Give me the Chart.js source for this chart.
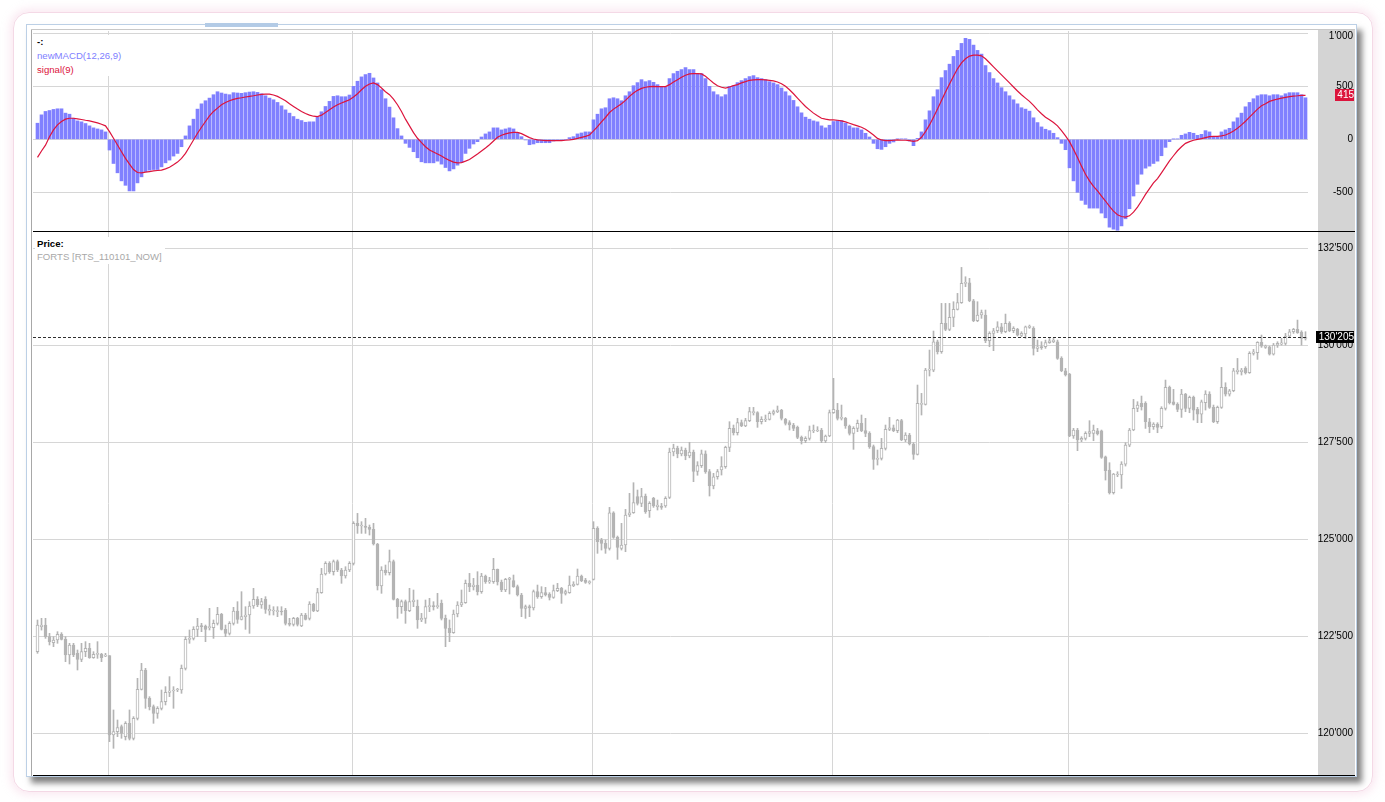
<!DOCTYPE html>
<html>
<head>
<meta charset="utf-8">
<title>newMACD / RTS</title>
<script src="https://cdn.jsdelivr.net/npm/chart.js@4.4.1/dist/chart.umd.min.js"></script>
<style>
  html, body { margin: 0; padding: 0; background: #fff; }
  body { position: relative; width: 1385px; height: 802px; overflow: hidden; font-family: "Liberation Sans", Arial, sans-serif; }
  #glow { position: absolute; left: 13px; top: 12px; width: 1358px; height: 778px; border: 1px solid #f4d9e6; border-radius: 16px; box-shadow: 0 0 8px 3px rgba(240, 190, 215, 0.35); }
  #frame { position: absolute; left: 26px; top: 24px; width: 1329px; height: 751px; background: #fff; border: 1px solid #bcd0e6; box-shadow: 5px 6px 6px rgba(0, 0, 0, 0.5); }
  #leftEdge { position: absolute; left: 31px; top: 30px; width: 1px; height: 746px; background: #a8a8a8; }
  #topEdge { position: absolute; left: 31px; top: 29px; width: 1324px; height: 1px; background: #c8c8c8; }
  #thumb { position: absolute; left: 205px; top: 23px; width: 73px; height: 4px; background: #b3cbe6; }
  #axisPanel { position: absolute; left: 1318px; top: 30px; width: 37px; height: 745px; background: #d4d4d4; }
  canvas { position: absolute; left: 33px; }
  .sep { position: absolute; left: 33px; width: 1322px; height: 1px; background: #000; }
  .legend { position: absolute; background: #fff; font-size: 9.6px; line-height: 14px; white-space: nowrap; padding: 0 3px 0 2px; }
  .legend b { color: #000; }
</style>
</head>
<body>
<div id="glow"></div>
<div id="frame"></div>
<div id="topEdge"></div>
<div id="leftEdge"></div>
<div id="thumb"></div>
<div id="axisPanel"></div>

<canvas id="macdChart" width="1322" height="200" style="top:31px"></canvas>
<div class="sep" style="top:231px"></div>
<canvas id="priceChart" width="1322" height="543" style="top:232px"></canvas>
<div class="sep" style="top:775px"></div>

<div class="legend" style="left:35px; top:35px; height:41px;">
  <b>-:</b><br>
  <span style="color:#8080ff">newMACD(12,26,9)</span><br>
  <span style="color:#dc143c">signal(9)</span>
</div>
<div class="legend" style="left:35px; top:237px; line-height:13px; height:27px;">
  <b>Price:</b><br>
  <span style="color:#a8a8a8">FORTS [RTS_110101_NOW]</span>
</div>

<script>
// Vertical grid (session breaks, in bar index units) and axis ticks
const sessionBreaks = [17.75, 78.75, 138.75, 198.75, 257.75];
const macdTicks = [-500, 0, 500, 1000];
const priceTicks = [120000, 122500, 125000, 127500, 130000, 132500];

// MACD histogram, one value per bar
const macdHist = [
  152, 231, 263, 272, 282, 288, 288, 247, 237, 199, 174, 165, 149, 127, 108, 98, 89, 70,
  -101, -228, -316, -392, -434, -487, -487, -411, -354, -304, -291, -285, -285, -260, -222, -196, -158, -133, -70,
  32, 127, 190, 285, 335, 364, 389, 421, 449, 437, 427, 421, 440, 437, 434, 440, 446, 449, 443, 430, 411, 389,
  373, 348, 316, 278, 247, 215, 190, 177, 161, 165, 165, 209, 260, 310, 358, 405, 411, 402, 402, 418, 500, 548,
  589, 611, 623, 579, 532, 468, 383, 304, 203, 101, 32,
  -38, -76, -117, -174, -212, -222, -222, -222, -206, -234, -266, -298, -279, -244, -218, -133, -85, -44, -22,
  22, 51, 70, 108, 108, 89, 98, 108, 98, 63, 25, -6,
  -51, -44, -32, -32, -32, -32, -16, -6, -6, 0, 16, 25, 51, 60, 70, 70,
  184, 237, 288, 298, 383, 392, 383, 364, 411, 449, 506, 535, 563, 544, 554, 538, 516, 494, 494, 573,
  620, 642, 658, 677, 658, 658, 620, 620, 573, 500, 449, 421, 402, 421, 500, 506, 535, 554, 573, 592,
  601, 582, 573, 563, 544, 532, 516, 484, 449, 411, 367, 307, 250, 209, 190, 174, 165, 127, 108, 133,
  168, 177, 177, 152, 127, 108, 108, 89, 57, 22,
  -38, -89, -95, -70, -38, -25, 5, 3, 2, -16, -60,
  9, 70, 184, 269, 402, 468, 582, 649, 709, 782, 839, 905, 953, 943, 889, 839, 804, 696, 630, 573,
  532, 487, 449, 411, 373, 335, 298, 285, 266, 203, 158, 117, 95, 82, 57, 16, -38, -98,
  -269, -392, -500, -576, -614, -649, -649, -649, -696, -741, -829, -848, -858, -817, -750, -655, -535,
  -424, -329, -272, -253, -228, -206, -155, -76, -22,
  2, 3, 38, 51, 66, 57, 38, 47, 82, 70, 25, 25, 70, 89, 104, 165, 203, 247, 307, 348, 383, 411,
  421, 421, 411, 421, 421, 411, 430, 440, 440, 440, 421, 392
];

// signal(9), one value per bar
const macdSignal = [
  -170, -110, -55, 25, 89, 136, 168, 190, 199, 199, 193, 187, 180, 174, 165, 155, 142, 127,
  73, 10, -54, -117, -180, -234, -285, -313, -316, -310, -304, -298, -294, -291, -279, -263, -241, -215, -180,
  -133, -70, -6, 57, 114, 168, 222, 263, 294, 326, 348, 364, 377, 386, 392, 399, 405, 411, 418, 424, 427, 427, 418, 405,
  386, 364, 335, 310, 285, 263, 244, 228, 218, 215, 228, 253, 278, 304, 326, 342, 358, 373, 399, 430, 468, 500, 522, 532,
  516, 484, 449, 421, 380, 326, 263, 190, 127, 63, 10, -32, -70, -101, -120, -139, -158, -180, -199, -215, -222,
  -220, -206, -190, -165, -139, -111, -82, -51, -16, 19, 38, 51, 60, 66, 66, 54, 35, 16, 3, -6, -9,
  -13, -13, -13, -13, -13, -9, -6, 0, 9, 19, 28, 41,
  79, 120, 165, 206, 253, 285, 310, 335, 367, 405, 437, 462, 481, 491, 497, 500, 497, 497, 497, 516,
  541, 563, 586, 604, 617, 620, 620, 617, 595, 563, 532, 506, 491, 484, 494, 506, 516, 532, 544, 557,
  560, 563, 563, 560, 557, 551, 541, 525, 500, 468, 430, 389, 348, 310, 278, 247, 222, 199, 190, 184,
  184, 180, 174, 165, 152, 139, 127, 114, 95, 70, 41, 9, -6, -13, -13, -9, -6,
  -9, -9, -13, -19, -13, 19, 73, 136, 209, 285, 367, 446, 522, 595, 665, 722, 760, 785, 794, 794,
  788, 760, 722, 684, 646, 608, 570, 532, 494, 456, 421, 389, 358, 320, 278, 241, 209, 184, 158, 127,
  82, 32, -22, -95, -171, -253, -329, -392, -443, -487, -535, -582, -633, -677, -712, -728, -734, -722, -687, -639,
  -582, -519, -465, -411, -370, -316, -260, -203, -155, -108, -70, -38, -22, -9, 0, 6, 16, 25, 28, 28,
  32, 41, 57, 79, 104, 136, 171, 209, 247, 285, 316, 335, 358, 370, 380, 389, 396, 402, 408, 411, 415, 415
];

// Price candles (FORTS RTS), open / high / low / close per bar
const opens = [
  122104, 122750, 122791, 122490, 122336, 122405, 122551, 122422, 122018, 122276, 122061, 121906, 122104, 122190, 121949, 122035, 122035, 121990, 122001, 119956,
  120042, 120171, 119913, 120257, 119871, 120386, 121133, 121631, 120901, 120687, 120515, 120644, 120815, 121056, 121090, 121116, 121116, 121674, 122422, 122447,
  122679, 122765, 122765, 122722, 122722, 122834, 123066, 122679, 122576, 122834, 123152, 122937, 123006, 123048, 123280, 123452, 123306, 123452, 123152, 123152,
  123134, 123152, 123177, 122834, 122808, 122963, 122765, 123048, 122963, 123332, 123152, 123624, 124105, 124380, 124165, 124423, 124208, 124053, 124208, 124380,
  125411, 125342, 125342, 125308, 125256, 124878, 123796, 124208, 124139, 124423, 123452, 123263, 123392, 123160, 123392, 123280, 122920, 122963, 123263, 123280,
  123263, 123349, 122963, 122705, 122593, 123074, 123306, 123366, 123864, 123779, 123821, 123650, 124053, 123899, 123907, 124225, 123899, 123693, 123968, 123933,
  123779, 123564, 123220, 123263, 123229, 123650, 123521, 123624, 123590, 123504, 123675, 123736, 123607, 123624, 123804, 123839, 124053, 123950, 123882, 123968,
  125282, 124981, 124895, 124766, 125685, 125050, 124766, 124852, 125625, 125685, 126098, 125926, 126115, 125737, 126055, 125840, 125857, 125857, 126081, 127250,
  127350, 127200, 127300, 127150, 127250, 126750, 126900, 127200, 126742, 126373, 126613, 126785, 126871, 127369, 127859, 127747, 128005, 127919, 128057, 128263,
  128263, 128031, 128074, 128091, 128246, 128289, 128332, 128091, 128005, 127945, 127885, 127627, 127541, 127601, 127790, 127790, 127816, 127533, 127662, 128263,
  128332, 128117, 128117, 127919, 127730, 127859, 127988, 127799, 127730, 127387, 127060, 127086, 127344, 127833, 127876, 127799, 128057, 127558, 127687, 127455,
  127189, 128477, 128477, 129362, 129362, 130092, 129835, 130565, 130410, 130720, 130926, 131098, 131596, 131613, 131149, 130634, 130780, 130780, 130118, 130307,
  130376, 130479, 130350, 130565, 130376, 130410, 130256, 130290, 130462, 130436, 129921, 129963, 129963, 130067, 130092, 130092, 129663, 129345, 129259, 127662,
  127816, 127558, 127601, 127730, 127730, 127798, 127798, 127128, 126785, 126201, 126656, 126656, 126939, 127429, 127816, 128374, 128503, 128503, 128030, 127901,
  127970, 127901, 128374, 128915, 128546, 128477, 128348, 128743, 128374, 128657, 128348, 128228, 128520, 128743, 128400, 128030, 128400, 128915, 128743, 128829,
  129319, 129319, 129405, 129293, 129791, 129808, 130075, 129946, 129963, 129774, 130006, 130032, 130049, 130238, 130350, 130410, 130341, 130178
];
const highs = [
  122920, 122963, 122963, 122576, 122490, 122619, 122594, 122490, 122319, 122319, 122147, 122319, 122362, 122319, 122104, 122362, 122061, 122061, 122001, 120601,
  120343, 120214, 120300, 120601, 120429, 121417, 121803, 121674, 120944, 120730, 120687, 121116, 121202, 121460, 121202, 121159, 121760, 122490, 122662, 122748,
  122963, 122834, 122791, 123220, 122920, 123246, 123091, 122791, 122877, 123246, 123392, 123650, 123263, 123392, 123736, 123521, 123478, 123521, 123306, 123263,
  123263, 123263, 123220, 122963, 122988, 122988, 123091, 123091, 123392, 123349, 123736, 124251, 124423, 124423, 124466, 124466, 124251, 124294, 124423, 125454,
  125668, 125454, 125540, 125368, 125411, 124895, 124294, 124337, 124723, 124466, 123478, 123435, 123435, 123736, 123693, 123435, 123091, 123435, 123478, 123392,
  123607, 123435, 123048, 122920, 123177, 123392, 123693, 123950, 124122, 123993, 124165, 124122, 124079, 124019, 124509, 124234, 123950, 123993, 124019, 124079,
  123821, 123607, 123306, 123306, 123693, 123821, 123779, 123761, 123624, 123821, 123864, 123761, 123693, 124053, 123907, 124234, 124079, 123993, 123933, 125454,
  125325, 125024, 124981, 125823, 125711, 125084, 125411, 125771, 126184, 126459, 126270, 126313, 126167, 125969, 126081, 126012, 125926, 126098, 127350, 127450,
  127400, 127380, 127350, 127500, 127300, 127000, 127300, 127280, 126800, 126700, 126800, 127129, 127400, 128031, 127945, 128117, 128074, 128117, 128400, 128400,
  128289, 128160, 128203, 128289, 128332, 128435, 128349, 128117, 128057, 127988, 127919, 127662, 127644, 127919, 127945, 127902, 127859, 127687, 128332, 129148,
  128503, 128460, 128142, 127945, 127902, 128074, 128203, 128117, 127773, 127430, 127301, 127601, 127945, 128142, 127945, 128091, 128091, 127747, 127730, 127490,
  128976, 128761, 129405, 129878, 130367, 130135, 131080, 131080, 131080, 131123, 131338, 132008, 131767, 131725, 131183, 131123, 130909, 130909, 130350, 130436,
  130608, 130565, 130805, 130608, 130479, 130436, 130350, 130496, 130522, 130479, 130135, 130092, 130135, 130178, 130178, 130135, 129706, 129405, 129276, 127859,
  127859, 127644, 127773, 128057, 127944, 127858, 127816, 127146, 126974, 126699, 126742, 127000, 127489, 127858, 128606, 128546, 128692, 128546, 128116, 128005,
  128005, 128417, 129104, 128950, 128864, 128520, 128864, 128760, 128692, 128692, 128400, 128589, 128829, 128803, 128460, 128434, 129431, 129035, 128864, 129405,
  129662, 129405, 129448, 129834, 129894, 130092, 130264, 130006, 129980, 130049, 130092, 130178, 130307, 130410, 130436, 130650, 130375, 130350
];
const lows = [
  122061, 122660, 122447, 122276, 122233, 122319, 122405, 121846, 121786, 121975, 121631, 121846, 121975, 121932, 121932, 121932, 121846, 121975, 119785, 119613,
  119913, 119871, 119828, 119828, 119828, 120343, 121116, 120644, 120601, 120257, 120386, 120601, 120730, 120944, 120644, 121073, 121030, 121631, 122319, 122405,
  122490, 122619, 122362, 122662, 122447, 122791, 122662, 122490, 122533, 122791, 122834, 122920, 122679, 122576, 123220, 123263, 123220, 123091, 123048, 123048,
  123006, 123048, 122791, 122765, 122765, 122765, 122748, 122920, 122920, 123134, 123134, 123607, 124079, 124122, 124079, 124165, 123865, 124000, 124165, 124337,
  125153, 125153, 125153, 125110, 124852, 123693, 123607, 124079, 124079, 123435, 122963, 123091, 122834, 123134, 123263, 122705, 122877, 122834, 123134, 123177,
  123220, 122920, 122232, 122361, 122576, 123000, 123263, 123349, 123650, 123693, 123564, 123607, 123864, 123864, 123864, 123821, 123650, 123650, 123590, 123761,
  123538, 123005, 122962, 123005, 123177, 123478, 123478, 123538, 123435, 123478, 123650, 123349, 123564, 123607, 123779, 123821, 123907, 123864, 123847, 123950,
  124638, 124723, 124638, 124723, 125024, 124483, 124723, 124680, 125582, 125668, 125883, 125840, 125668, 125565, 125823, 125754, 125771, 125823, 126050, 127150,
  127100, 127150, 127050, 127100, 126485, 126650, 126850, 126700, 126115, 126300, 126550, 126656, 126830, 127258, 127687, 127687, 127902, 127902, 128031, 128203,
  127885, 127971, 128031, 128074, 128203, 128263, 128074, 127945, 127816, 127799, 127593, 127455, 127490, 127558, 127747, 127773, 127490, 127490, 127644, 128246,
  128074, 128074, 127859, 127687, 127318, 127773, 127773, 127644, 127344, 126802, 126914, 127043, 127301, 127799, 127773, 127747, 127541, 127515, 127430, 127060,
  127172, 128203, 128460, 129208, 129319, 129775, 129793, 130376, 130376, 130479, 130909, 131080, 131510, 131123, 130608, 130608, 130694, 130067, 129963, 129861,
  130324, 130307, 130324, 130350, 130324, 130239, 130221, 130178, 130436, 129749, 129835, 129895, 129921, 130050, 130067, 129637, 129319, 129208, 127644, 127601,
  127284, 127516, 127558, 127644, 127541, 127687, 127086, 126527, 126166, 126166, 126613, 126312, 126888, 127386, 127798, 128288, 128331, 127858, 127747, 127833,
  127747, 127858, 128331, 128486, 128460, 128288, 128142, 128288, 128262, 128073, 128005, 128005, 128331, 128374, 128005, 127987, 128374, 128692, 128692, 128803,
  129259, 129233, 129259, 129276, 129748, 129637, 129946, 129920, 129748, 129748, 129946, 130006, 130006, 130221, 130307, 130307, 130006, 130135
];
const closes = [
  122791, 122790, 122490, 122362, 122405, 122551, 122422, 122018, 122276, 122018, 121906, 122104, 122190, 121949, 122035, 122060, 121949, 122010, 119956, 120042,
  120145, 119999, 120257, 119871, 120386, 121133, 121631, 120901, 120687, 120515, 120644, 120815, 121056, 121090, 121116, 121130, 121674, 122422, 122447, 122679,
  122765, 122750, 122679, 122748, 122834, 123066, 122679, 122576, 122834, 123152, 122937, 123006, 123048, 123280, 123452, 123306, 123392, 123194, 123194, 123177,
  123152, 123126, 122834, 122808, 122963, 122808, 123048, 122937, 123332, 123152, 123624, 124105, 124380, 124165, 124423, 124208, 124053, 124208, 124380, 125411,
  125342, 125368, 125308, 125256, 124878, 123796, 124208, 124139, 124423, 123452, 123263, 123392, 123160, 123392, 123435, 122920, 122963, 123263, 123290, 123263,
  123290, 122963, 122705, 122593, 123074, 123306, 123366, 123864, 123779, 123821, 123650, 124053, 123907, 123933, 124225, 123899, 123693, 123968, 124000, 123779,
  123564, 123220, 123263, 123229, 123650, 123521, 123624, 123564, 123504, 123675, 123736, 123607, 123650, 123821, 123839, 124053, 123933, 123890, 123899, 125282,
  124938, 124895, 124766, 125685, 125050, 124792, 124852, 125625, 125685, 125943, 125926, 126098, 125711, 125926, 125857, 125883, 125823, 126055, 127250, 127350,
  127200, 127300, 127150, 127250, 126750, 126900, 127200, 126742, 126373, 126613, 126742, 126871, 127369, 127859, 127747, 128005, 127919, 128057, 128289, 128289,
  128031, 128091, 128091, 128246, 128289, 128332, 128117, 127988, 127945, 127859, 127627, 127541, 127601, 127799, 127816, 127816, 127533, 127662, 128263, 128349,
  128117, 128142, 127919, 127730, 127859, 127988, 127799, 127730, 127387, 127060, 127086, 127344, 127833, 127876, 127799, 128074, 127558, 127687, 127455, 127189,
  128503, 128503, 129362, 129379, 130092, 129835, 130565, 130410, 130720, 130926, 131098, 131596, 131613, 131149, 130634, 130780, 130840, 130118, 130307, 130376,
  130479, 130350, 130565, 130376, 130436, 130264, 130307, 130479, 130496, 129921, 129963, 129938, 130067, 130118, 130135, 129663, 129345, 129234, 127662, 127816,
  127558, 127601, 127730, 127773, 127816, 127713, 127111, 126768, 126201, 126682, 126682, 126939, 127429, 127816, 128374, 128460, 128417, 128030, 127901, 127970,
  127884, 128374, 128915, 128520, 128477, 128348, 128743, 128374, 128657, 128331, 128228, 128546, 128743, 128400, 128030, 128400, 128915, 128743, 128829, 129345,
  129362, 129362, 129293, 129791, 129834, 130075, 129980, 129980, 129774, 130006, 130049, 130066, 130238, 130350, 130410, 130324, 130178, 130205
];

// Colours
const GRID = '#d6d6d6';
const CANDLE = '#b4b4b4';
const MACD_BLUE = '#8080ff';
const SIGNAL_RED = '#dc143c';
const FONT = '10px "Liberation Sans", Arial, sans-serif';

// bar i is centred at 4px * (i - X_MIN) inside the plot
const X_MIN = -1.125;
const X_MAX = 317.625;

const fmt = (v) => Math.round(v).toLocaleString('en-US').replace(/,/g, "'");

// right hand axis labels + last value marker
const axisLabels = {
  id: 'axisLabels',
  afterDatasetsDraw(chart, args, opts) {
    if (!opts.dashed) return;
    const { ctx, chartArea } = chart;
    const y = Math.round(chart.scales.y.getPixelForValue(opts.value)) + 0.5;
    ctx.save();
    ctx.strokeStyle = '#303030';
    ctx.lineWidth = 1;
    ctx.setLineDash([3, 2]);
    ctx.beginPath();
    ctx.moveTo(chartArea.left, y);
    ctx.lineTo(chartArea.right, y);
    ctx.stroke();
    ctx.restore();
  },
  afterDraw(chart, args, opts) {
    const { ctx } = chart;
    const scale = chart.scales.y;
    const right = chart.width - 2;
    ctx.save();
    ctx.font = FONT;
    ctx.textAlign = 'right';
    ctx.textBaseline = 'middle';
    ctx.fillStyle = '#000';
    scale.ticks.forEach(t => {
      const py = Math.max(scale.getPixelForValue(t.value), scale.top + 5);
      ctx.fillText(fmt(t.value), right, py);
    });
    if (opts.value !== undefined) {
      const txt = fmt(opts.value);
      const py = scale.getPixelForValue(opts.value);
      const w = Math.ceil(ctx.measureText(txt).width) + 2;
      ctx.fillStyle = opts.bg;
      ctx.fillRect(chart.width - 1 - w, Math.round(py - 6), w, 12);
      ctx.fillStyle = '#fff';
      ctx.fillText(txt, right + 1, py);
    }
    ctx.restore();
  }
};

function xScale() {
  return {
    type: 'linear',
    min: X_MIN,
    max: X_MAX,
    offset: false,
    ticks: { display: false },
    grid: { color: GRID, drawTicks: false, offset: false },
    border: { display: false },
    afterBuildTicks: (axis) => { axis.ticks = sessionBreaks.map(v => ({ value: v })); },
    afterFit: (axis) => { axis.height = 0; }
  };
}

function yScale(min, max, ticks) {
  return {
    position: 'right',
    min: min,
    max: max,
    ticks: { display: false },
    grid: { color: GRID, drawTicks: false },
    border: { display: false },
    afterBuildTicks: (axis) => { axis.ticks = ticks.map(v => ({ value: v })); },
    afterFit: (axis) => { axis.width = 47; }
  };
}

// 1. MACD panel
new Chart(document.getElementById('macdChart'), {
  type: 'bar',
  data: {
    datasets: [
      {
        type: 'line',
        data: macdSignal.map((v, i) => ({ x: i, y: v })),
        borderColor: SIGNAL_RED,
        borderWidth: 1.2,
        pointRadius: 0,
        tension: 0,
        order: 0
      },
      {
        type: 'bar',
        data: macdHist.map((v, i) => ({ x: i, y: v })),
        backgroundColor: MACD_BLUE,
        barThickness: 3,
        order: 1
      }
    ]
  },
  options: {
    responsive: false,
    animation: false,
    layout: { padding: 0 },
    plugins: {
      legend: { display: false },
      tooltip: { enabled: false },
      axisLabels: { value: macdSignal[macdSignal.length - 1], bg: SIGNAL_RED, dashed: false }
    },
    scales: {
      x: xScale(),
      y: yScale(-865, 1022, macdTicks)
    }
  },
  plugins: [axisLabels]
});

// 2. Price panel, candles built from two floating bar sets
const wicks = highs.map((h, i) => ({ x: i, y: [lows[i], h] }));
const bodies = opens.map((o, i) => ({ x: i, y: [o, closes[i]] }));
const bodyFill = opens.map((o, i) => closes[i] >= o ? '#ffffff' : CANDLE);

new Chart(document.getElementById('priceChart'), {
  type: 'bar',
  data: {
    datasets: [
      {
        data: bodies,
        backgroundColor: bodyFill,
        borderColor: CANDLE,
        borderWidth: 1,
        borderSkipped: false,
        barThickness: 3,
        minBarLength: 1,
        grouped: false,
        order: 0
      },
      {
        data: wicks,
        backgroundColor: CANDLE,
        barThickness: 1,
        grouped: false,
        order: 1
      }
    ]
  },
  options: {
    responsive: false,
    animation: false,
    layout: { padding: 0 },
    plugins: {
      legend: { display: false },
      tooltip: { enabled: false },
      axisLabels: { value: closes[closes.length - 1], bg: '#000', dashed: true }
    },
    scales: {
      x: xScale(),
      y: yScale(118925, 132920, priceTicks)
    }
  },
  plugins: [axisLabels]
});
</script>
</body>
</html>
